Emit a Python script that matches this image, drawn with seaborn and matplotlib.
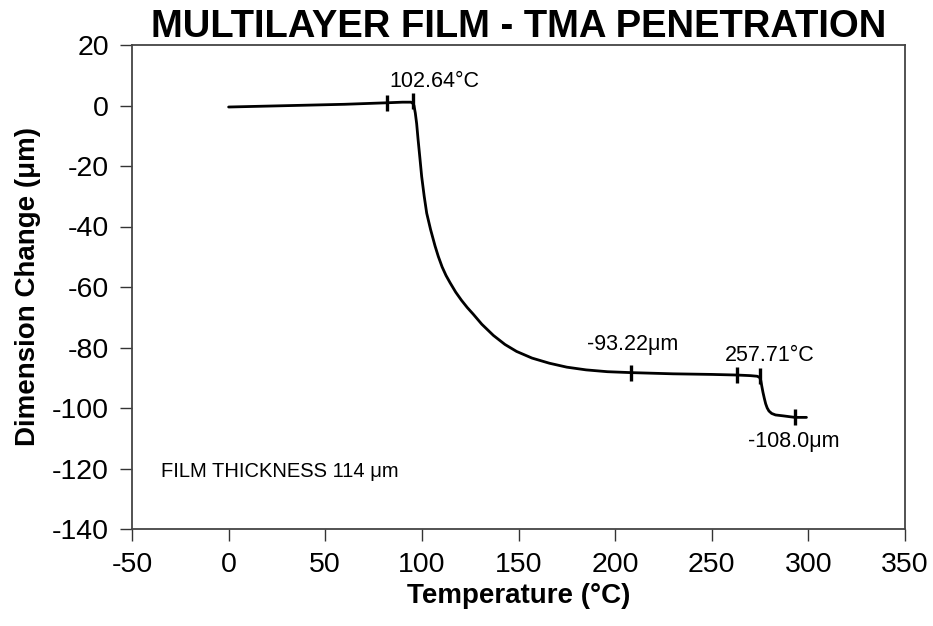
import matplotlib
matplotlib.use("Agg")
import matplotlib.pyplot as plt
import seaborn as sns
import pandas as pd

# ---- data ----
temperature = [0, 20, 40, 60, 82, 90, 94.3, 95.2, 95.9, 96.6, 97.3, 98.0, 99.0,
               99.9, 101.2, 102.5, 104.5, 106.8, 108.5, 110.5, 112.5, 114.6,
               117.5, 120.5, 123.5, 126.6, 131, 137, 143, 149, 157, 166, 175,
               185, 196, 208, 230, 250, 263, 270, 273.5, 274.8, 275.4, 275.9,
               276.5, 277.2, 277.9, 278.7, 279.6, 281, 283, 287, 293, 299]
dimension = [-0.5, -0.2, 0.1, 0.4, 0.9, 1.1, 1.1, 0.8, 0.0, -2.5, -6.0, -11.0,
             -17.5, -23.5, -30.0, -35.6, -41.0, -46.4, -49.9, -53.4, -56.2,
             -58.6, -61.7, -64.4, -66.8, -69.0, -72.3, -76.0, -79.0, -81.3,
             -83.5, -85.2, -86.5, -87.4, -88.0, -88.3, -88.7, -88.9, -89.1,
             -89.3, -89.5, -89.9, -91.0, -92.8, -94.8, -96.8, -98.6, -100.0,
             -101.0, -101.8, -102.3, -102.6, -103.1, -103.1]

marker_temp = [82, 95.5, 208, 263, 275, 293]
marker_dim = [0.9, 1.4, -88.3, -89.1, -89.3, -103.1]

annot_labels = ["102.64°C", "-93.22μm", "257.71°C", "-108.0μm", "FILM THICKNESS 114 μm"]
annot_x = [83, 185.5, 257, 269, -35]
annot_y = [8.0, -79.0, -82.5, -111.0, -121.0]

x_ticks = [-50, 0, 50, 100, 150, 200, 250, 300, 350]
y_ticks = [20, 0, -20, -40, -60, -80, -100, -120, -140]

title = "MULTILAYER FILM - TMA PENETRATION"
x_label = "Temperature (°C)"
y_label = "Dimension Change (μm)"

# ---- plotting ----
sns.set_theme(style="ticks")
plt.rcParams['font.family'] = ['Liberation Sans', 'DejaVu Sans']
plt.rcParams['text.color'] = 'black'
plt.rcParams['axes.labelcolor'] = 'black'

fig = plt.figure(figsize=(9.33, 6.26), dpi=100)
ax = fig.add_axes([132 / 933, 1 - 529 / 626, (905 - 132) / 933, (529 - 45) / 626])

df = pd.DataFrame({"T": temperature, "D": dimension})
sns.lineplot(data=df, x="T", y="D", ax=ax, color="black", linewidth=2.0,
             sort=False, estimator=None)

mk = pd.DataFrame({"T": marker_temp, "D": marker_dim})
sns.scatterplot(data=mk, x="T", y="D", ax=ax, marker="|", s=140, color="black",
                linewidth=2.4, zorder=5)

for lab, xx, yy in zip(annot_labels, annot_x, annot_y):
    fs = 14.5 if lab.startswith("FILM") else 15.5
    ax.text(xx, yy, lab, fontsize=fs, color="black", ha="left", va="center")

ax.set_xlim(-50, 350)
ax.set_ylim(-140, 20)
ax.set_xticks(x_ticks)
ax.set_yticks(y_ticks)
ax.set_xticklabels([str(v) for v in x_ticks])
ax.set_yticklabels([str(v) for v in y_ticks])
ax.tick_params(axis="both", direction="out", length=8.5, width=1.0,
               colors="#333333", labelcolor="black", labelsize=20.5, pad=8)

for s in ax.spines.values():
    s.set_color("#444444")
    s.set_linewidth(1.3)

ax.set_xlabel(x_label, fontsize=20, fontweight="bold", labelpad=4, color="black")
ax.set_ylabel(y_label, fontsize=20, fontweight="bold", labelpad=8, color="black")
ax.set_title(title, fontsize=27.5, fontweight="bold", pad=5, color="black")

fig.savefig("out.png", dpi=100)
